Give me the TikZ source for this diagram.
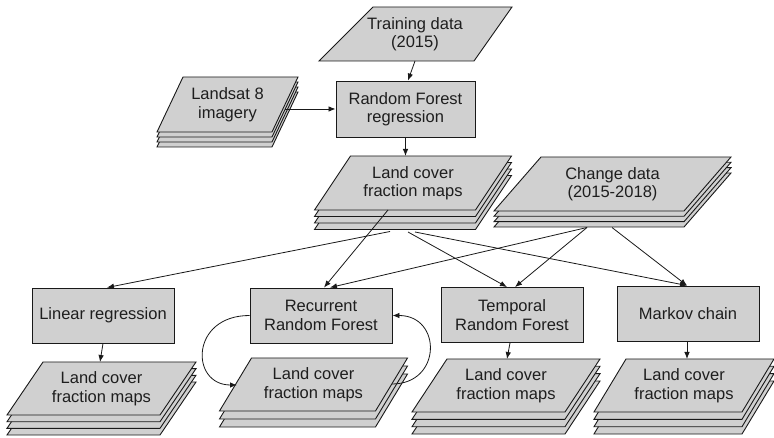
\documentclass[tikz,border=0pt]{standalone}
\usepackage{fontspec}
\setmainfont{Liberation Sans}
\usetikzlibrary{arrows.meta,calc}
\definecolor{boxfill}{RGB}{208,208,208}
\definecolor{edgecol}{RGB}{25,25,25}
\definecolor{txtcol}{RGB}{30,30,30}
\tikzset{
  layer/.style={draw=edgecol, fill=boxfill, line width=0.9pt, line join=miter},
  lbl/.style={align=center, text=txtcol, font=\fontsize{16.5}{18.5}\selectfont, inner sep=0pt},
  procbox/.style={draw=edgecol, fill=boxfill, line width=0.9pt, minimum height=55pt,
    minimum width=142pt, align=center, text=txtcol, font=\fontsize{16.5}{18.5}\selectfont, inner sep=0pt},
  conn/.style={draw=edgecol, line width=0.8pt, -{Latex[length=7pt,width=5.5pt]}}
}
% name, cx, cy, w, h, slant, list of offsets (back to front), text
\newcommand\mystack[8]{%
  \foreach \o in {#7}{%
    \begin{scope}[shift={(#2,#3+\o)}]
      \draw[layer] ({-#4/2+#6/2},{-#5/2}) -- ({#4/2+#6/2},{-#5/2}) -- ({#4/2-#6/2},{#5/2}) -- ({-#4/2-#6/2},{#5/2}) -- cycle;
    \end{scope}}%
  \node[lbl] (#1) at (#2,#3) {#8};
}
\begin{document}
\begin{tikzpicture}[x=1pt,y=-1pt]
\useasboundingbox (0,0) rectangle (774,438);

% Training data (single parallelogram)
\begin{scope}[shift={(415,34)}]
  \draw[layer] (-42,-27) -- (97,-27) -- (59,27) -- (-96,27) -- cycle;
\end{scope}
\node[lbl] (td) at (415,34) {Training data\\(2015)};
\coordinate (tdS) at (415,61);

% Landsat 8 imagery
\mystack{ls}{227.5}{104.5}{115}{55}{26}{15,10,5,0}{Landsat 8\\imagery}
\coordinate (lsE) at (285,109);

% Random Forest regression
\node[procbox, minimum width=139pt, minimum height=56pt] (rf) at (405.5,109) {Random Forest\\regression};

% Land cover fraction maps (middle)
\mystack{lc}{413}{183}{161}{54}{36}{19.5,13,6.5,0}{Land cover\\fraction maps}
\coordinate (lcA) at (390,231.5);
\coordinate (lcB) at (388,210);
\coordinate (lcC) at (408,232);
\coordinate (lcD) at (415,232);

% Change data
\mystack{cd}{612.5}{184}{190}{54}{47}{16,10.7,5.3,0}{Change data\\(2015-2018)}
\coordinate (cdA) at (587,227.5);
\coordinate (cdB) at (612,227.5);

% Process boxes
\node[procbox] (lin) at (103,315.5) {Linear regression};
\node[procbox] (rec) at (321,315.5) {Recurrent\\Random Forest};
\node[procbox] (tem) at (512,315) {Temporal\\Random Forest};
\node[procbox] (mar) at (688,313.5) {Markov chain};

% Output maps
\mystack{m1}{101.5}{388.5}{153}{53}{36}{20,13.3,6.7,0}{Land cover\\fraction maps}
\mystack{m2}{313.5}{384.5}{156}{53}{32}{16,8,0}{Land cover\\fraction maps}
\mystack{m3}{506}{385.5}{153}{53}{35}{22,14.7,7.3,0}{Land cover\\fraction maps}
\mystack{m4}{684}{385.5}{148}{53}{32}{22,14.7,7.3,0}{Land cover\\fraction maps}
\coordinate (m1N) at (100,362);
\coordinate (m3N) at (507,359);
\coordinate (m4N) at (687,359);
\coordinate (m2W) at (237,385);
\coordinate (m2E) at (392,384);

% Connectors (top part)
\draw[conn] (tdS) -- ($(rf.north)+(2.5,0)$);
\draw[conn] (lsE) -- (rf.west |- lsE);
\draw[conn] (rf.south) -- ($(lc.center)+(-7.5,-27)$);

% From land cover maps
\draw[conn] (lcA) -- ($(lin.north)+(4,0)$);
\draw[conn] (lcB) -- ($(rec.north)+(3,0)$);
\draw[conn] (lcC) -- ($(tem.north)+(-5,0)$);
\draw[conn] (lcD) -- ($(mar.north)+(-1,0)$);

% From change data
\draw[conn] (cdA) -- ($(rec.north)+(9,0)$);
\draw[conn] (cdA) -- ($(tem.north)+(3,0)$);
\draw[conn] (cdB) -- ($(mar.north)+(-1,0)$);

% Boxes to maps
\draw[conn] (lin.south) -- (m1N);
\draw[conn] ($(tem.south)+(-2,0)$) -- (m3N);
\draw[conn] ($(mar.south)+(-1,0)$) -- (m4N);

% Recurrent loop
\draw[conn] (rec.west) .. controls (190,315.5) and (190,385) .. (m2W);
\draw[conn] (m2E) .. controls (442,384) and (442,315.5) .. (rec.east);
\end{tikzpicture}
\end{document}
